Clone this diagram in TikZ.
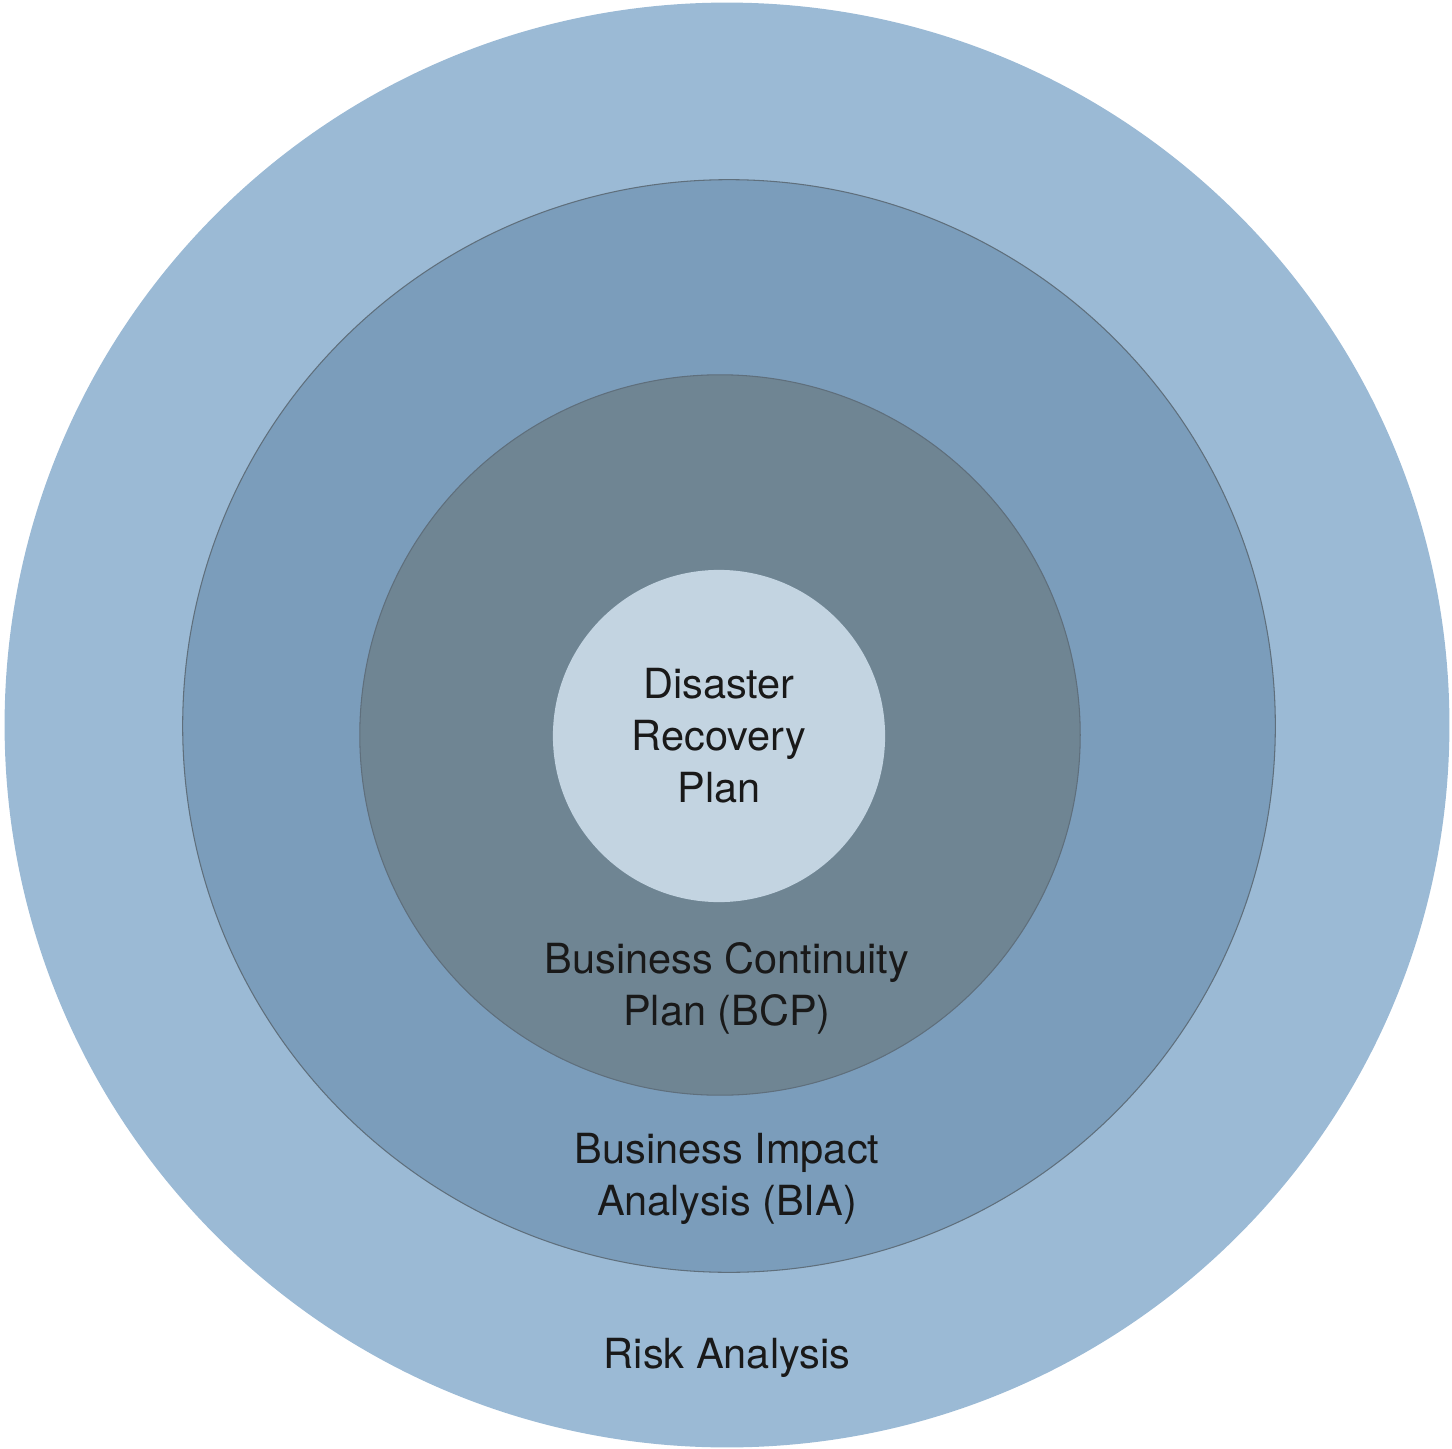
\documentclass[tikz,border=0pt]{standalone}
\usepackage{fontspec}
\setmainfont{TeX Gyre Heros}
\usepackage{tikz}
\usetikzlibrary{positioning}
\definecolor{riskblue}{HTML}{9BBAD5}
\definecolor{biablue}{HTML}{7B9DBB}
\definecolor{bcpgrey}{HTML}{6F8593}
\definecolor{drpblue}{HTML}{C3D4E1}
\definecolor{ringline}{HTML}{5F6F7C}

\begin{document}
\begin{tikzpicture}[x=0.01cm, y=-0.01cm,
  ring/.style={circle, inner sep=0pt, outer sep=0pt},
  label/.style={align=center, text=black!90, font=\fontsize{11.8}{14.8}\selectfont}]
\useasboundingbox (0,0) rectangle (1452,1449);
\node[ring, fill=riskblue, minimum size=14.44cm] (risk) at (727,725) {};
\node[ring, fill=biablue, draw=ringline, line width=0.3pt, minimum size=10.92cm] (bia) at (729,726) {};
\node[ring, fill=bcpgrey, draw=ringline, line width=0.3pt, minimum size=7.2cm] (bcp) at (720,735) {};
\node[ring, fill=drpblue, minimum size=3.32cm] (drp) at (719,736) {};
\node[label] (drp_text) at (drp) {Disaster\\Recovery\\Plan};
\node[label] (bcp_text) at (727,988) {Business Continuity\\Plan (BCP)};
\node[label] (bia_text) at (727,1179) {Business Impact\\Analysis (BIA)};
\node[label] (risk_text) at (727,1358) {Risk Analysis};
\end{tikzpicture}
\end{document}
